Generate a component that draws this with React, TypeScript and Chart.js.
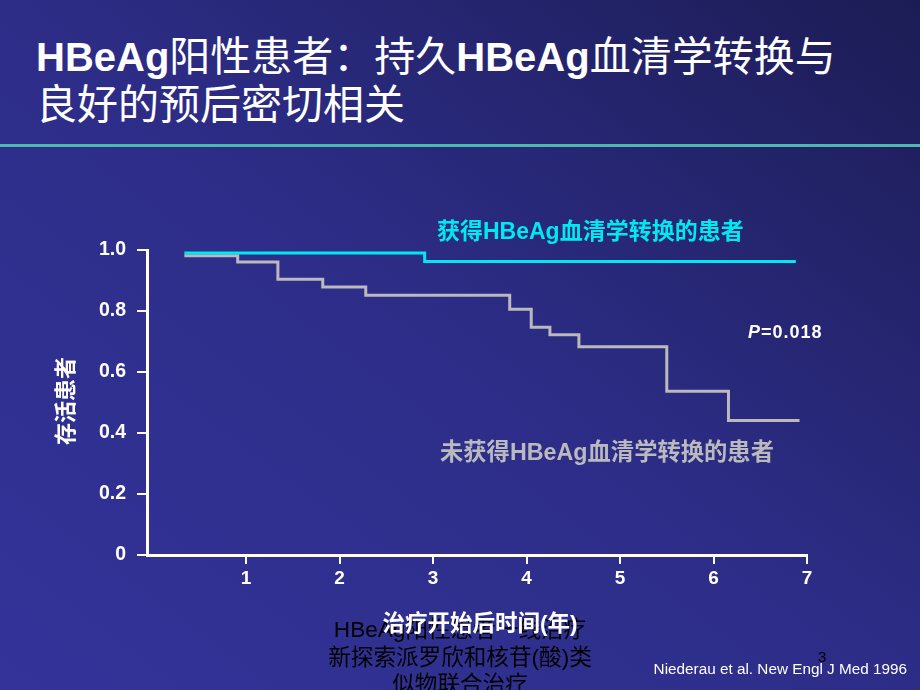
import React, { useEffect, useRef } from "react";
import { Chart, registerables } from "chart.js";

Chart.register(...registerables);

// ---- data (Kaplan-Meier style survival curves) ----
const SERIES_CONVERTED = "获得HBeAg血清学转换的患者";
const SERIES_NOT_CONVERTED = "未获得HBeAg血清学转换的患者";

const CONVERTED_TIMES = [0.34, 2.91, 6.88];
const CONVERTED_SURVIVAL = [0.99, 0.962, 0.962];

const NOT_CONVERTED_TIMES = [0.34, 0.91, 1.34, 1.82, 2.28, 3.82, 4.05, 4.25, 4.56, 5.5, 6.16, 6.92];
const NOT_CONVERTED_SURVIVAL = [0.981, 0.961, 0.904, 0.879, 0.852, 0.806, 0.747, 0.722, 0.683, 0.537, 0.441, 0.441];

const X_TICKS = [1, 2, 3, 4, 5, 6, 7];
const Y_TICKS = [0, 0.2, 0.4, 0.6, 0.8, 1.0];

const TITLE_LINE_1 = ["HBeAg", "阳性患者：持久", "HBeAg", "血清学转换与"];
const TITLE_LINE_2 = "良好的预后密切相关";
const Y_TITLE = "存活患者";
const X_TITLE = "治疗开始后时间(年)";
const P_VALUE = "=0.018";
const FOOT_LINES = ["HBeAg阳性患者一线治疗", "新探索派罗欣和核苷(酸)类", "似物联合治疗"];
const PAGE_NO = "3";
const SOURCE = "Niederau et al. New Engl J Med 1996";

const SANS = '"Liberation Sans", Arial, "Noto Sans CJK SC", sans-serif';

export default function App() {
  const ref = useRef<HTMLCanvasElement | null>(null);

  useEffect(() => {
    if (!ref.current) return;
    const chart = new Chart(ref.current, {
      type: "line",
      data: {
        datasets: [
          {
            label: SERIES_CONVERTED,
            data: CONVERTED_TIMES.map((t, i) => ({ x: t, y: CONVERTED_SURVIVAL[i] })),
            borderColor: "#00e8f0",
            borderWidth: 3,
            pointRadius: 0,
            stepped: "before",
            fill: false,
          },
          {
            label: SERIES_NOT_CONVERTED,
            data: NOT_CONVERTED_TIMES.map((t, i) => ({ x: t, y: NOT_CONVERTED_SURVIVAL[i] })),
            borderColor: "#b9b9be",
            borderWidth: 3,
            pointRadius: 0,
            stepped: "before",
            fill: false,
          },
        ],
      },
      options: {
        responsive: false,
        animation: false,
        layout: { padding: { top: 250, left: 0, right: 113, bottom: 0 } },
        plugins: { legend: { display: false }, tooltip: { enabled: false } },
        scales: {
          x: {
            type: "linear",
            min: -0.06,
            max: 7,
            afterFit: (s: any) => {
              s.height = 135;
            },
            afterBuildTicks: (s: any) => {
              s.ticks = X_TICKS.map((v) => ({ value: v }));
            },
            ticks: {
              color: "#ffffff",
              font: { family: SANS, size: 19, weight: "bold" },
              padding: 3,
              autoSkip: false,
              maxRotation: 0,
              callback: (v: any) => String(v),
            },
            grid: { drawOnChartArea: false, drawTicks: true, tickLength: 9, color: "#ffffff", lineWidth: 2 },
            border: { color: "#ffffff", width: 3 },
          },
          y: {
            type: "linear",
            min: 0,
            max: 1,
            afterFit: (s: any) => {
              s.width = 147;
            },
            afterBuildTicks: (s: any) => {
              s.ticks = Y_TICKS.map((v) => ({ value: v }));
            },
            ticks: {
              color: "#ffffff",
              font: { family: SANS, size: 19.5, weight: "bold" },
              padding: 11,
              autoSkip: false,
              callback: (v: any) => (Number(v) === 0 ? "0" : Number(v).toFixed(1)),
            },
            grid: { drawOnChartArea: false, drawTicks: true, tickLength: 10, color: "#ffffff", lineWidth: 2 },
            border: { color: "#ffffff", width: 3 },
          },
        },
      },
    });
    return () => chart.destroy();
  }, []);

  const abs = (o: React.CSSProperties): React.CSSProperties => ({ position: "absolute", whiteSpace: "nowrap", ...o });

  return (
    <div
      style={{
        position: "fixed",
        left: 0,
        top: 0,
        width: 920,
        height: 690,
        overflow: "hidden",
        background: "linear-gradient(to top right, #33339a 0%, #2d2d88 50%, #1c1c55 100%)",
        fontFamily: SANS,
      }}
    >
      {/* title */}
      <div style={abs({ left: 36, top: 33, fontSize: 41, lineHeight: "48px", color: "#fff" })}>
        <span style={{ fontWeight: "bold", fontSize: 40 }}>{TITLE_LINE_1[0]}</span>
        <span>{TITLE_LINE_1[1]}</span>
        <span style={{ fontWeight: "bold", fontSize: 40 }}>{TITLE_LINE_1[2]}</span>
        <span>{TITLE_LINE_1[3]}</span>
      </div>
      <div style={abs({ left: 36, top: 81, fontSize: 41, lineHeight: "48px", color: "#fff" })}>{TITLE_LINE_2}</div>
      <div style={abs({ left: 0, top: 144, width: 920, height: 3, background: "#4db8ae" })} />

      <canvas ref={ref} width={920} height={690} style={{ position: "absolute", left: 0, top: 0, display: "block" }} />

      {/* annotations */}
      <div style={abs({ left: 437, top: 217, fontSize: 23, fontWeight: "bold", color: "#00e8f0", lineHeight: "28px" })}>
        {SERIES_CONVERTED}
      </div>
      <div style={abs({ left: 440, top: 438, fontSize: 23.3, fontWeight: "bold", color: "#b9b9be", lineHeight: "28px" })}>
        {SERIES_NOT_CONVERTED}
      </div>
      <div style={abs({ left: 748, top: 320, fontSize: 18, fontWeight: "bold", color: "#fff", letterSpacing: 1, lineHeight: "24px" })}>
        <i>P</i>
        {P_VALUE}
      </div>
      <div
        style={abs({
          left: 66,
          top: 401,
          fontSize: 22,
          fontWeight: "bold",
          color: "#fff",
          lineHeight: "24px",
          transform: "translate(-50%, -50%) rotate(-90deg)",
        })}
      >
        {Y_TITLE}
      </div>

      {/* footer text */}
      <div
        style={abs({
          left: 260,
          top: 616,
          width: 400,
          textAlign: "center",
          fontSize: 22.6,
          lineHeight: "27.5px",
          color: "#000",
          whiteSpace: "normal",
        })}
      >
        {FOOT_LINES.map((l, i) => (
          <div key={i}>{l}</div>
        ))}
      </div>
      <div style={abs({ left: 380, top: 610, width: 200, textAlign: "center", fontSize: 22.5, fontWeight: "bold", color: "#fff", lineHeight: "28px" })}>
        {X_TITLE}
      </div>
      <div style={abs({ left: 818, top: 648, fontSize: 15, color: "#000", lineHeight: "18px" })}>{PAGE_NO}</div>
      <div style={abs({ right: 13, top: 660, fontSize: 15.3, color: "#fff", lineHeight: "18px" })}>{SOURCE}</div>
    </div>
  );
}
